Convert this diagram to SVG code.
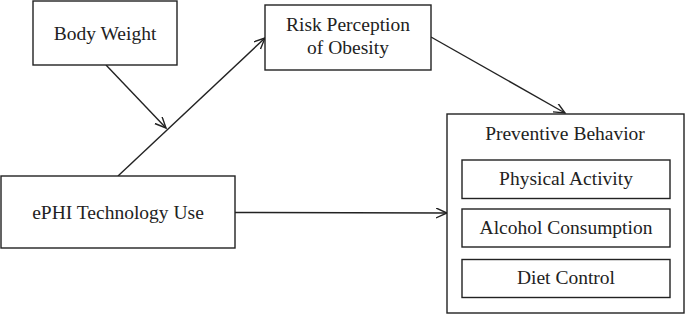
<svg xmlns="http://www.w3.org/2000/svg" width="685" height="315" viewBox="0 0 685 315">
<defs>
<style>
rect{fill:#fff;stroke:#222;stroke-width:1.4}
text{font-family:"Liberation Serif","Times New Roman",serif;font-size:19.5px;fill:#222;text-anchor:middle}
.c{stroke:#222;stroke-width:1.4;fill:none;marker-end:url(#ah)}
</style>
<marker id="ah" markerUnits="userSpaceOnUse" markerWidth="14" markerHeight="12" refX="11" refY="5" orient="auto">
<path d="M0,0 L11,5 L0,10" fill="none" stroke="#222" stroke-width="1.4"/>
</marker>
</defs>
<rect x="0" y="0" width="685" height="315" style="fill:#fff;stroke:none"/>
<g id="connectors">
<line class="c" x1="106" y1="65" x2="166" y2="128"/>
<line class="c" x1="118" y1="176" x2="265" y2="38"/>
<line class="c" x1="431" y1="37" x2="565" y2="113"/>
<line class="c" x1="235" y1="212.5" x2="447" y2="213"/>
</g>
<g id="body-weight">
<rect x="33" y="1" width="144" height="64"/>
<text x="105" y="40">Body Weight</text>
</g>
<g id="risk-perception">
<rect x="265" y="5" width="166" height="65"/>
<text x="348" y="30.5">Risk Perception</text>
<text x="348" y="53.5">of Obesity</text>
</g>
<g id="ephi">
<rect x="1" y="176" width="234" height="72"/>
<text x="118" y="219">ePHI Technology Use</text>
</g>
<g id="preventive-behavior">
<rect x="447" y="114" width="237" height="199"/>
<text x="565" y="140">Preventive Behavior</text>
</g>
<g id="physical-activity">
<rect x="462" y="160" width="208" height="38.5"/>
<text x="566" y="185">Physical Activity</text>
</g>
<g id="alcohol-consumption">
<rect x="462" y="209" width="208" height="38"/>
<text x="566" y="234">Alcohol Consumption</text>
</g>
<g id="diet-control">
<rect x="462" y="259.5" width="208" height="38"/>
<text x="566" y="284">Diet Control</text>
</g>
</svg>
